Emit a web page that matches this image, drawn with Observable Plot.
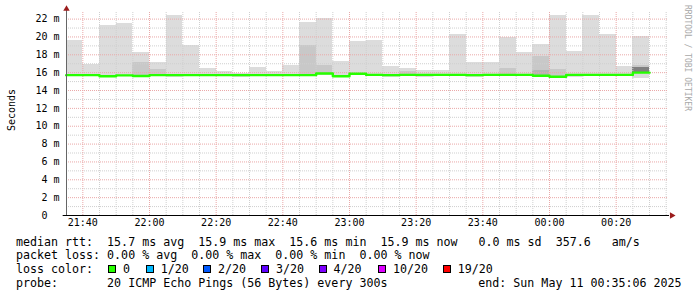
<!DOCTYPE html>
<html><head><meta charset="utf-8">
<script src="https://cdn.jsdelivr.net/npm/d3@7"></script>
<script src="https://cdn.jsdelivr.net/npm/@observablehq/plot@0.6"></script>
<style>
html,body{margin:0;padding:0;background:#fff;}
#wrap{position:relative;width:697px;height:297px;overflow:hidden;background:#fff;font-family:"DejaVu Sans Mono",monospace;}
#chart{position:absolute;left:0;top:0;}
.row{position:absolute;left:16px;font-size:11.65px;line-height:14px;white-space:pre;color:#000;}
.box{position:absolute;width:6px;height:6px;border:1px solid #000;}
.lab{position:absolute;font-size:11.65px;line-height:14px;white-space:pre;color:#000;}
#ylab{position:absolute;left:11px;top:110px;transform:translate(-50%,-50%) rotate(-90deg);font-size:10px;white-space:nowrap;color:#000;}
#credit{position:absolute;left:683px;top:5px;writing-mode:vertical-rl;font-size:8px;line-height:9px;color:#a8a8a8;white-space:nowrap;}
</style></head>
<body>
<div id="wrap"></div>
<script>
// ---- data ----
const binTimes = ["21:35","21:40","21:45","21:50","21:55","22:00","22:05","22:10","22:15","22:20","22:25","22:30","22:35","22:40","22:45","22:50","22:55","23:00","23:05","23:10","23:15","23:20","23:25","23:30","23:35","23:40","23:45","23:50","23:55","00:00","00:05","00:10","00:15","00:20","00:25"];
// RTT in milliseconds
const smokeMax = [19.6,16.9,21.3,21.5,18.3,17.15,22.4,19.0,16.5,16.15,15.9,16.6,16.1,16.8,21.6,22.05,17.25,19.5,19.6,16.7,16.5,16.25,16.25,20.3,17.15,17.15,19.9,18.3,19.15,22.4,18.4,22.4,20.3,16.7,20.0];
const smokeMin = [15.55,15.65,15.5,15.55,15.5,15.65,15.42,15.65,15.65,15.65,15.42,15.65,15.65,15.65,15.65,15.7,15.5,15.7,15.65,15.42,15.65,15.5,15.65,15.65,15.42,15.65,15.65,15.65,15.6,15.45,15.5,15.65,15.65,15.65,15.4];
const inner1 = [null,null,null,null,17.15,16.4,null,null,null,null,null,null,null,null,19.0,16.8,null,null,null,null,16.15,null,null,null,null,null,16.5,null,17.85,16.35,null,null,null,null,16.8];
const inner2 = [null,null,null,null,null,null,null,null,null,null,null,null,null,null,null,null,null,null,null,null,null,null,null,null,null,null,null,null,16.25,null,null,null,null,null,null];
const inner3 = [null,null,null,null,null,null,null,null,null,null,null,null,null,null,null,null,null,null,null,null,null,null,null,null,null,null,null,null,null,null,null,null,null,null,16.6];
const medianRtt = [15.72,15.72,15.6,15.7,15.62,15.72,15.72,15.72,15.72,15.72,15.72,15.72,15.72,15.72,15.72,15.9,15.6,15.88,15.75,15.72,15.75,15.75,15.75,15.75,15.72,15.75,15.75,15.75,15.65,15.55,15.75,15.75,15.75,15.75,16.0];

const xTickLabels = ["21:40","22:00","22:20","22:40","23:00","23:20","23:40","00:00","00:20"];
const yTicks = [0,2,4,6,8,10,12,14,16,18,20,22];
const yMinor = [1,3,5,7,9,11,13,15,17,19,21];

const lossLabels = ["0","1/20","2/20","3/20","4/20","10/20","19/20"];
const lossColors = ["#26ff00","#00b8ff","#0059ff","#5e00ff","#7e00ff","#dd00ff","#ff0000"];

const statsLine = "median rtt:  15.7 ms avg  15.9 ms max  15.6 ms min  15.9 ms now   0.0 ms sd  357.6   am/s";
const lossLine  = "packet loss: 0.00 % avg  0.00 % max  0.00 % min  0.00 % now";
const probeLine = "probe:       20 ICMP Echo Pings (56 Bytes) every 300s";
const endLine   = "end: Sun May 11 00:35:06 2025";

// ---- build ----
const parseT = s => { const [h,m] = s.split(":").map(Number); return new Date(Date.UTC(2025,4,h<12?11:10,h,m)); };
const STEP = 5*60*1000;
const endTime = new Date(Date.UTC(2025,4,11,0,35,6));
const startTime = new Date(+endTime - 3*3600*1000);

const rows = binTimes.map((s,i) => {
  const t0 = parseT(s);
  return {t0, t1: new Date(+t0 + STEP), min: smokeMin[i], max: smokeMax[i], in1: inner1[i], in2: inner2[i], in3: inner3[i], med: medianRtt[i]};
});
const medLine = rows.map(r => ({t: r.t0, v: r.med}));
medLine.push({t: rows[rows.length-1].t1, v: rows[rows.length-1].med});

const xMajor = xTickLabels.map(parseT);
const xMinor = d3.utcMinute.every(5).range(new Date(+startTime + 60000), endTime).filter(d => d.getUTCMinutes() % 20 !== 0);

const yTop = 22.74;
const rectOpts = {x1: "t0", x2: "t1", shapeRendering: "crispEdges"};

const chart = Plot.plot({
  width: 697, height: 232,
  marginLeft: 66, marginRight: 31, marginTop: 12, marginBottom: 17,
  style: {fontFamily: "DejaVu Sans Mono", fontSize: "10px", color: "#000", background: "transparent", overflow: "visible"},
  x: {type: "utc", domain: [startTime, endTime], axis: null},
  y: {domain: [0, yTop], axis: null},
  marks: [
    Plot.rect(rows, {...rectOpts, y1: "min", y2: "max", fill: "#dcdcdc"}),
    Plot.rect(rows.filter(d => d.in1 != null), {...rectOpts, y1: "med", y2: "in1", fill: "#c8c8c8"}),
    Plot.rect(rows.filter(d => d.in2 != null), {...rectOpts, y1: "med", y2: "in2", fill: "#b4b4b4"}),
    Plot.rect(rows.filter(d => d.in3 != null), {...rectOpts, y1: "med", y2: "in3", fill: "#808080"}),
    Plot.ruleY(yMinor, {x1: startTime, x2: new Date(+endTime + 36000), stroke: "#cfcfcf", strokeDasharray: "1,1"}),
    Plot.ruleX(xMinor, {y1: 0, y2: yTop, stroke: "#cfcfcf", strokeDasharray: "1,1"}),
    Plot.ruleY(yTicks.filter(d => d > 0), {x1: startTime, x2: new Date(+endTime + 36000), stroke: "#eaa8a8", strokeDasharray: "1,1"}),
    Plot.ruleX(xMajor, {y1: 0, y2: yTop, stroke: "#eaa8a8", strokeDasharray: "1,1"}),
    Plot.line(medLine, {x: "t", y: "v", curve: "step-after", stroke: "#26ff00", strokeWidth: 2.4}),
    Plot.ruleY([0], {x1: new Date(+startTime - 60000), x2: new Date(+endTime + 54000), stroke: "#000"}),
    Plot.ruleX([startTime], {y1: 0, y2: yTop + 0.3, stroke: "#666"}),
    Plot.dot([0], {x: () => startTime, y: () => yTop + 0.4, symbol: "triangle", r: 2.4, fill: "#9b1c1c", stroke: null}),
    Plot.dot([0], {x: () => new Date(+endTime + 96000), y: () => 0, symbol: "triangle", r: 2.4, rotate: 90, fill: "#9b1c1c", stroke: null}),
    Plot.axisY(yTicks, {tickSize: 0, tickPadding: 7, fontSize: 10, tickFormat: d => d === 0 ? "0\u00a0\u00a0" : d + " m"}),
    Plot.axisX(xMajor, {tickSize: 0, tickPadding: 3, fontSize: 10, tickFormat: d3.utcFormat("%H:%M")})
  ]
});
chart.id = "chart";
const wrap = document.getElementById("wrap");
wrap.appendChild(chart);

function addDiv(cls, text, css) {
  const d = document.createElement("div");
  d.className = cls; d.textContent = text; Object.assign(d.style, css || {});
  wrap.appendChild(d); return d;
}
addDiv("", "Seconds").id = "ylab";
addDiv("", "RRDTOOL / TOBI OETIKER").id = "credit";
addDiv("row", statsLine, {top: "234.5px"});
addDiv("row", lossLine, {top: "248.3px"});
addDiv("row", "loss color:", {top: "262.2px"});
const boxLeft = [108, 145.7, 203, 261, 318.5, 378, 442.7];
lossLabels.forEach((l, i) => {
  addDiv("box", "", {left: boxLeft[i] + "px", top: "265.2px", background: lossColors[i]});
  addDiv("lab", l, {left: (boxLeft[i] + 15) + "px", top: "262.2px"});
});
addDiv("row", probeLine, {top: "276px"});
addDiv("lab", endLine, {left: "478.3px", top: "276px"});
</script>
</body></html>
